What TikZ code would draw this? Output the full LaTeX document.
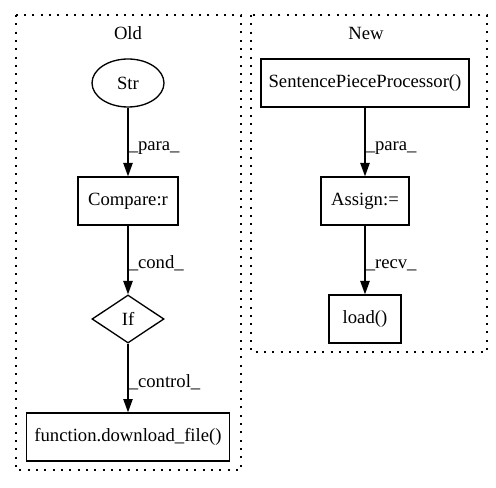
\documentclass[tikz,border=0pt]{standalone}
\usepackage{fontspec}
\setmainfont{Liberation Serif}
\usetikzlibrary{shapes.geometric,arrows.meta}

\tikzset{
  box/.style={draw,rectangle,line width=1pt,inner sep=0pt,minimum height=36pt,font=\fontsize{14}{16}\selectfont},
  ell/.style={draw,ellipse,line width=1pt,inner sep=0pt,minimum width=54pt,minimum height=36pt,font=\fontsize{14}{16}\selectfont},
  test/.style={draw,diamond,line width=1pt,inner sep=0pt,minimum width=54pt,minimum height=36pt,font=\fontsize{14}{16}\selectfont},
  flow/.style={line width=1pt,-{Triangle[length=10pt,width=7pt]}},
  elabel/.style={anchor=base west,inner sep=0pt,font=\fontsize{14}{16}\selectfont},
  ctitle/.style={inner sep=0pt,font=\fontsize{14}{16}\selectfont},
  cluster/.style={line width=1pt,dash pattern={on 1.5pt off 4.75pt}}
}

\begin{document}
\begin{tikzpicture}[x=0.75pt,y=0.75pt,yscale=-1,xscale=1]
\useasboundingbox (0,0) rectangle (496,488);

%Clusters
\draw [cluster] (16,15) rectangle (241,470);
\draw [cluster] (251,15) rectangle (487,352);
\node [ctitle] (told) at (128,33) {Old};
\node [ctitle] (tnew) at (366,33) {New};

% Old side
\node [ell] (str) at (128,83) {Str};
\node [box,minimum width=75pt] (cmp) at (128,201) {Compare:r};
\node [test] (iff) at (128,319) {If};
\node [box,minimum width=152pt] (dlfile) at (128,437) {function.download\_file()};

% New side
\node [box,minimum width=156pt] (spp) at (365,83) {SentencePieceProcessor()};
\node [box,minimum width=66pt] (asg) at (365,201) {Assign:=};
\node [box,minimum width=54pt] (load) at (365,319) {load()};

%Edges
\draw [flow] (str) -- (cmp);
\draw [flow] (cmp) -- (iff);
\draw [flow] (iff) -- (dlfile);
\draw [flow] (spp) -- (asg);
\draw [flow] (asg) -- (load);

% Edge labels
\node [elabel] (lpara) at (128.5,151) {\_para\_};
\node [elabel] (lcond) at (128.5,269) {\_cond\_};
\node [elabel] (lctrl) at (128.5,387) {\_control\_};
\node [elabel] (lpara2) at (365.5,151) {\_para\_};
\node [elabel] (lrecv) at (365.5,269) {\_recv\_};
\end{tikzpicture}
\end{document}
